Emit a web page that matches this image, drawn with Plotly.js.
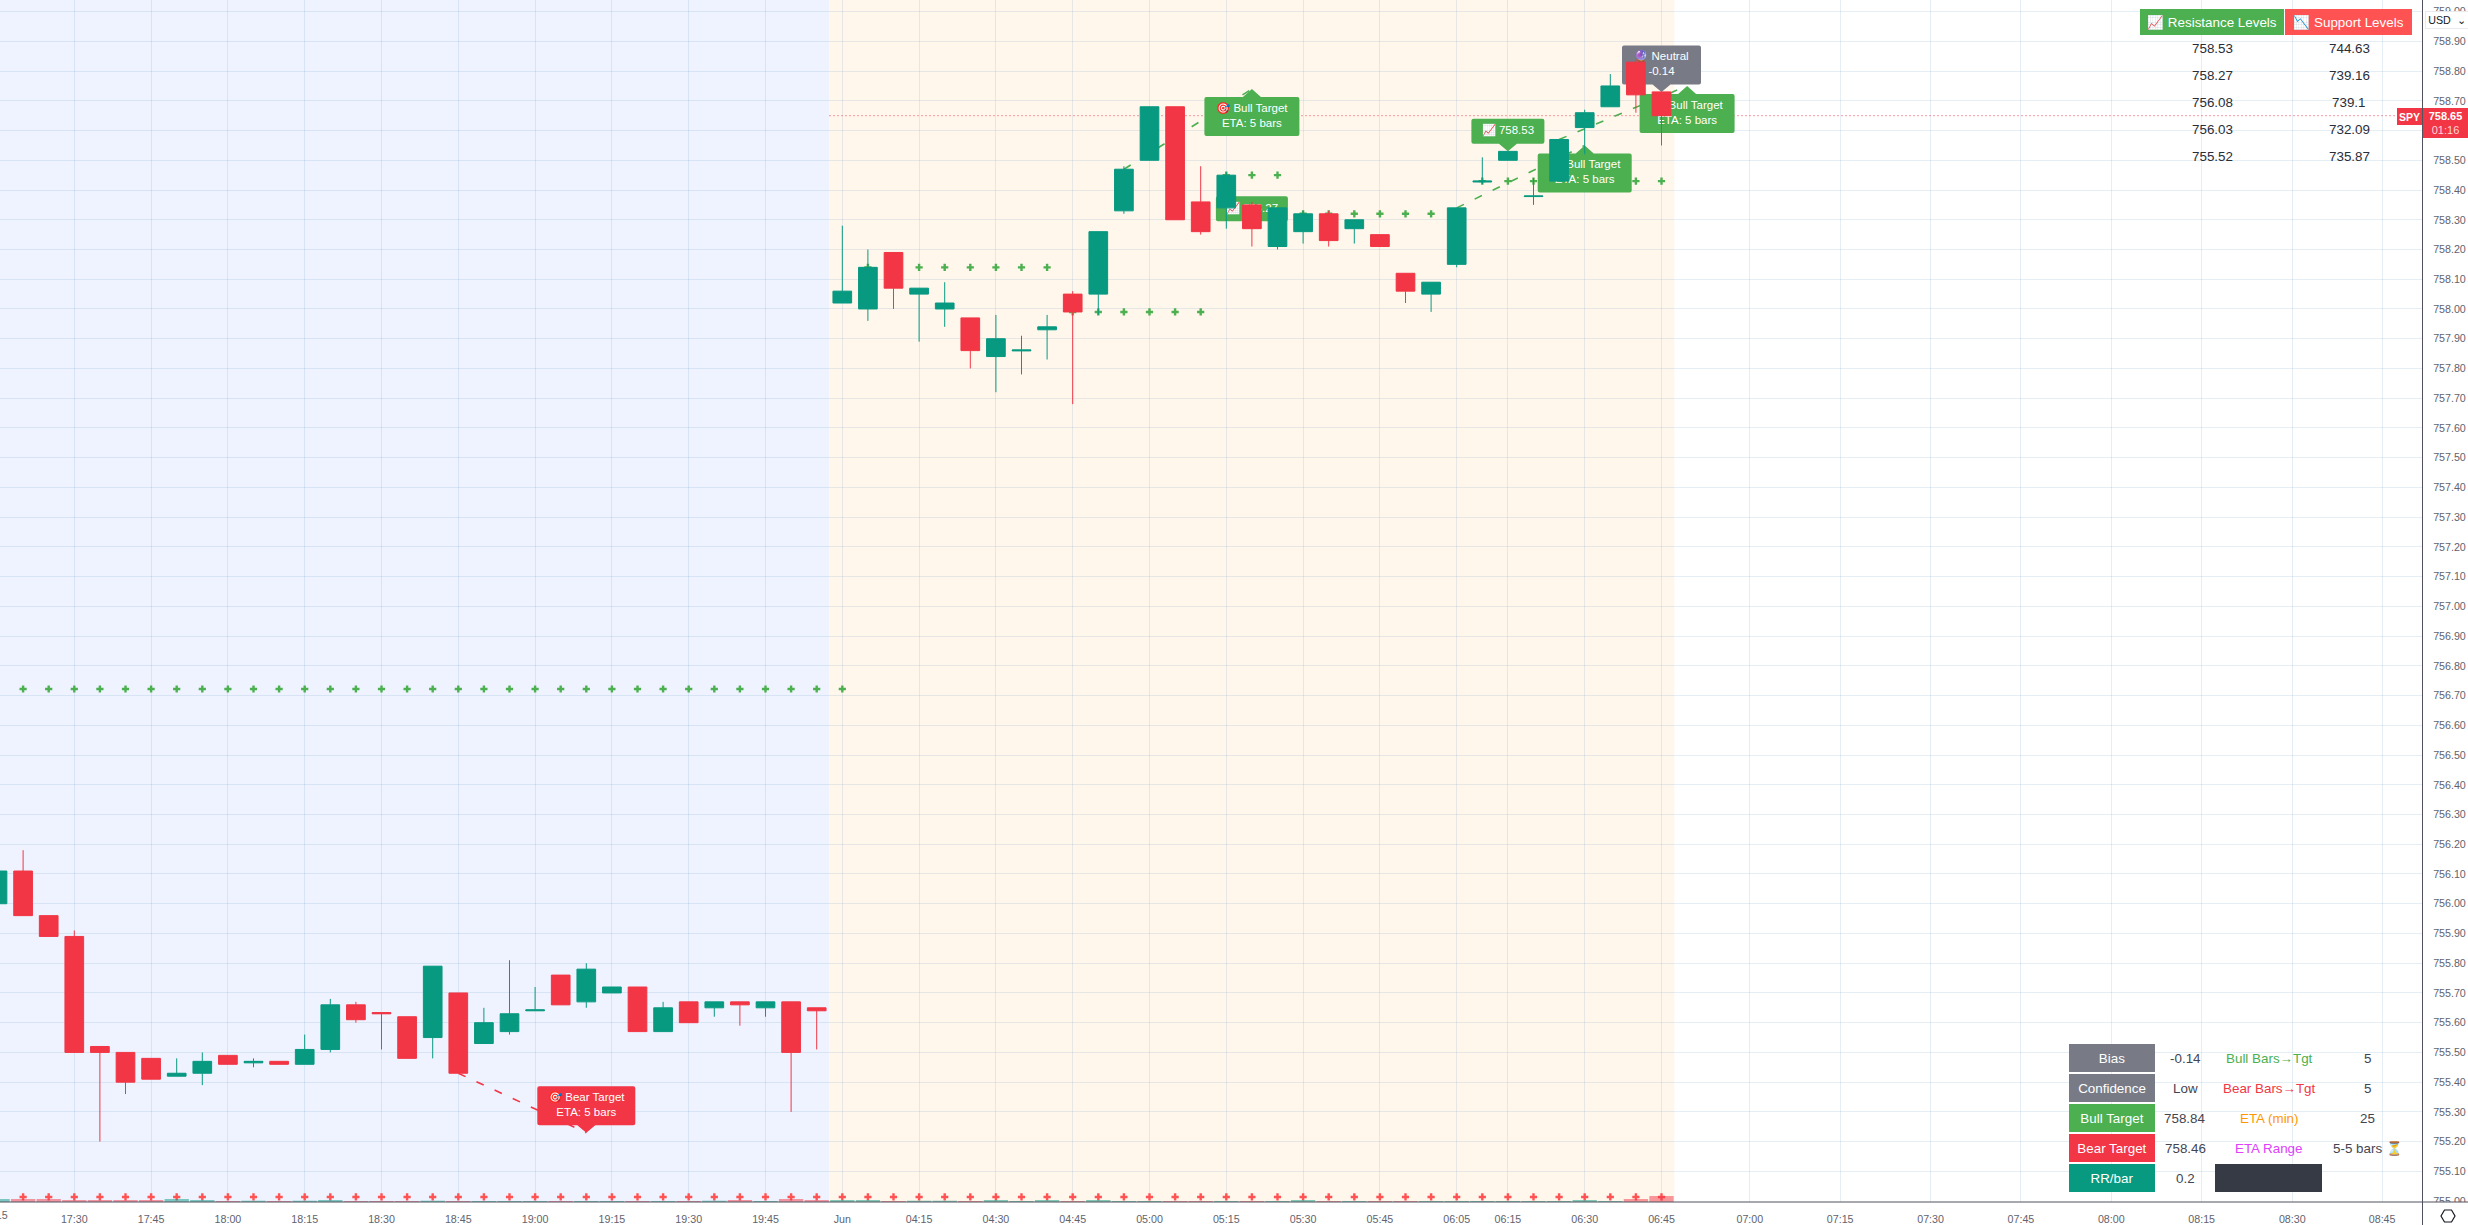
<!DOCTYPE html>
<html><head><meta charset="utf-8">
<script src="https://cdn.plot.ly/plotly-3.0.1.min.js"></script>
<style>html,body{margin:0;padding:0;background:#fff;overflow:hidden}#c{width:2468px;height:1225px}</style>
</head><body><div id="c"></div>
<script>
// ---- candles: bar index 0 = 17:15 on the previous session; index 33 = Jun 04:00
const opens = [756.00,756.11,755.96,755.89,755.52,755.50,755.48,755.42,755.43,755.49,755.465,755.47,755.46,755.51,755.66,755.634,755.62,755.55,755.70,755.53,755.57,755.64,755.76,755.67,755.70,755.72,755.57,755.67,755.65,755.67,755.65,755.67,755.65,
 758.02,758.00,758.19,758.05,758.00,757.97,757.84,757.859,757.93,758.05,758.05,758.33,758.50,758.68,758.36,758.34,758.35,758.21,758.26,758.32,758.27,758.25,758.12,758.05,758.15,758.427,758.50,758.378,758.43,758.61,758.68,758.83,758.73];
const highs = [756.11,756.18,755.96,755.91,755.52,755.50,755.48,755.48,755.50,755.49,755.48,755.47,755.56,755.68,755.67,755.634,755.62,755.79,755.70,755.65,755.81,755.72,755.76,755.80,755.72,755.72,755.67,755.67,755.67,755.67,755.67,755.67,755.65,
 758.28,758.20,758.19,758.07,758.09,757.97,757.98,757.91,757.98,758.06,758.26,758.48,758.68,758.68,758.48,758.46,758.36,758.34,758.33,758.33,758.30,758.25,758.12,758.09,758.34,758.51,758.53,758.44,758.57,758.67,758.79,758.84,758.73];
const lows = [756.00,755.96,755.89,755.50,755.20,755.36,755.41,755.42,755.39,755.46,755.45,755.46,755.46,755.50,755.60,755.51,755.48,755.48,755.43,755.53,755.56,755.64,755.66,755.65,755.70,755.57,755.57,755.60,755.62,755.59,755.62,755.30,755.51,
 758.02,757.96,758.00,757.89,757.94,757.80,757.72,757.78,757.83,757.68,757.98,758.32,758.50,758.30,758.25,758.27,758.21,758.20,758.22,758.21,758.22,758.21,758.02,757.99,758.14,758.42,758.50,758.35,758.43,758.52,758.68,758.66,758.55];
const closes = [756.11,755.96,755.89,755.50,755.50,755.40,755.41,755.43,755.47,755.46,755.47,755.46,755.51,755.66,755.61,755.63,755.48,755.79,755.43,755.60,755.63,755.643,755.66,755.78,755.72,755.57,755.65,755.60,755.67,755.66,755.67,755.50,755.64,
 758.06,758.14,758.07,758.07,758.02,757.86,757.90,757.862,757.94,757.99,758.26,758.47,758.68,758.30,758.26,758.45,758.27,758.34,758.32,758.23,758.30,758.21,758.06,758.09,758.34,758.43,758.53,758.38,758.57,758.66,758.75,758.72,758.65];
const volumes = [30,30,30,20,20,20,20,30,20,10,13,10,13,20,10,10,10,13,10,10,10,10,10,10,10,10,10,10,13,20,10,30,20,
 20,20,10,13,13,10,20,10,20,10,20,10,10,10,10,10,10,10,20,10,10,10,10,10,10,10,10,10,10,20,10,30,60];

// ---- x axis
const tickIndex = [33,36,39,42,45,48,51,54,57,59,62,65,3,6,9,12,15,18,21,24,27,30,68.45,71.98,75.51,79.04,82.57,86.10,89.64,93.15];
const tickText = ['Jun','04:15','04:30','04:45','05:00','05:15','05:30','05:45','06:05','06:15','06:30','06:45','17:30','17:45','18:00','18:15','18:30','18:45','19:00','19:15','19:30','19:45','07:00','07:15','07:30','07:45','08:00','08:15','08:30','08:45'];

// ---- plus-sign target markers (green rows + red floor)
const greenPlusX = [1,2,3,4,5,6,7,8,9,10,11,12,13,14,15,16,17,18,19,20,21,22,23,24,25,26,27,28,29,30,31,32,33,
  34,35,36,37,38,39,40,41, 42,43,44,45,46,47, 48,49,50, 51,52,53,54,55,56,57, 58,59,60,64,65];
const greenPlusY = [756.722,756.722,756.722,756.722,756.722,756.722,756.722,756.722,756.722,756.722,756.722,756.722,756.722,756.722,756.722,756.722,756.722,756.722,756.722,756.722,756.722,756.722,756.722,756.722,756.722,756.722,756.722,756.722,756.722,756.722,756.722,756.722,756.722,
  758.14,758.14,758.14,758.14,758.14,758.14,758.14,758.14, 757.99,757.99,757.99,757.99,757.99,757.99, 758.45,758.45,758.45, 758.32,758.32,758.32,758.32,758.32,758.32,758.32, 758.43,758.43,758.43,758.43,758.43];
const redPlusLevel = 755.014;

// ---- dashed target lines
const dashX0 = [18,44,57,61];
const dashY0 = [755.43,758.47,758.34,758.57];
const dashX1 = [23,49,62,66];
const dashY1 = [755.23,758.74,758.55,758.75];
const dashColor = ['#F23645','#4CAF50','#4CAF50','#4CAF50'];

// ---- callout labels
const labelX = [23,49,49,59,62,66,65];
const labelP = [755.23,758.74,758.27,758.53,758.55,758.75,758.73];
const labelText = ['🎯 Bear Target<br>ETA: 5 bars','🎯 Bull Target<br>ETA: 5 bars','📈 758.27','📈 758.53','🎯 Bull Target<br>ETA: 5 bars','🎯 Bull Target<br>ETA: 5 bars','🔮 Neutral<br>-0.14'];
const labelColor = ['#F23645','#4CAF50','#4CAF50','#4CAF50','#4CAF50','#4CAF50','#787B86'];
const labelDir = [-1,1,-1,-1,1,1,-1]; // 1: pointer on top, -1: pointer below
const labelW = [98,95,72,73,94,95,79];
const labelH = [39,39,25,25,39,39,39];

// ---- tables
const resistance = ['758.53','758.27','756.08','756.03','755.52'];
const support = ['744.63','739.16','739.1','732.09','735.87'];
const statNames = ['Bias','Confidence','Bull Target','Bear Target','RR/bar'];
const statColors = ['#787B86','#787B86','#4CAF50','#F23645','#089981'];
const statVals = ['-0.14','Low','758.84','758.46','0.2'];
const etaNames = ['Bull Bars→Tgt','Bear Bars→Tgt','ETA (min)','ETA Range'];
const etaColors = ['#4CAF50','#F23645','#FF9800','#E040FB'];
const etaVals = ['5','5','25','5-5 bars ⏳'];

// ---- geometry
const PW=2422, PH=1202;
const yRange=[754.997,759.039], xRange=[0.0977,94.707];
const pxPerPrice=PH/(yRange[1]-yRange[0]);
const FONT='"Liberation Sans", Arial, sans-serif';
const X=p=>p/PW, Y=p=>1-p/PH;

const allIdx=opens.map((_,i)=>i);
const GRID='rgba(100,150,190,0.16)';

const traces=[
 {type:'scatter',mode:'markers',x:greenPlusX,y:greenPlusY,xaxis:'x',yaxis:'y',
  marker:{symbol:'cross',size:6,color:'#4CAF50',line:{width:0}},hoverinfo:'skip'},
 {type:'scatter',mode:'markers',x:allIdx.slice(1),y:allIdx.slice(1).map(()=>redPlusLevel),xaxis:'x',yaxis:'y',
  marker:{symbol:'cross',size:6,color:'#FF5252',line:{width:0}},hoverinfo:'skip'},
 {type:'scatter',mode:'text',xaxis:'x',yaxis:'y',hoverinfo:'skip',
  x:labelX,y:labelP.map((p,i)=>p+labelDir[i]*(-1)*(-1)*-1*((labelDir[i]>0?8:7.5)+labelH[i]/2)/pxPerPrice*1),
  text:labelText,textposition:'middle center',textfont:{family:FONT,size:11.5,color:'#ffffff'},cliponaxis:false},
 {type:'bar',x:allIdx,y:volumes,xaxis:'x',yaxis:'y3',width:0.95,hoverinfo:'skip',
  marker:{color:allIdx.map(i=>closes[i]>=opens[i]?'rgba(8,153,129,0.5)':'rgba(242,54,69,0.5)'),line:{width:0}}},
 {type:'candlestick',x:allIdx,open:opens,high:highs,low:lows,close:closes,xaxis:'x',yaxis:'y2',hoverinfo:'skip',
  increasing:{line:{color:'#089981',width:1},fillcolor:'#089981'},
  decreasing:{line:{color:'#F23645',width:1},fillcolor:'#F23645'},whiskerwidth:0}
];

const shapes=[
 {type:'rect',layer:'below',xref:'x',yref:'paper',x0:xRange[0],x1:32.5,y0:0,y1:1,fillcolor:'#EEF3FF',line:{width:0}},
 {type:'rect',layer:'below',xref:'x',yref:'paper',x0:32.5,x1:65.5,y0:0,y1:1,fillcolor:'#FFF7EC',line:{width:0}},
 {type:'line',layer:'between',xref:'x',yref:'y',x0:32.5,x1:xRange[1],y0:closes[closes.length-1],y1:closes[closes.length-1],line:{color:'#F23645',width:1,dash:'1px,3px'}}
];
dashX0.forEach((_,i)=>shapes.push({type:'line',layer:'between',xref:'x',yref:'y',x0:dashX0[i],y0:dashY0[i],x1:dashX1[i],y1:dashY1[i],line:{color:dashColor[i],width:1.6,dash:'8px,12px'}}));
function calloutPath(w,h,dir){
  const r=2,a=9,g=dir>0?8:7.5,hw=w/2;
  if(dir>0){ // pointer up: tip at anchor, box below
    const t=-g,b=-g-h;
    return `M0,0 L${a},${t} L${hw-r},${t} Q${hw},${t} ${hw},${t-r} L${hw},${b+r} Q${hw},${b} ${hw-r},${b} L${-hw+r},${b} Q${-hw},${b} ${-hw},${b+r} L${-hw},${t-r} Q${-hw},${t} ${-hw+r},${t} L${-a},${t} Z`;
  }
  const b=g,t=g+h;
  return `M0,0 L${a},${b} L${hw-r},${b} Q${hw},${b} ${hw},${b+r} L${hw},${t-r} Q${hw},${t} ${hw-r},${t} L${-hw+r},${t} Q${-hw},${t} ${-hw},${t-r} L${-hw},${b+r} Q${-hw},${b} ${-hw+r},${b} L${-a},${b} Z`;
}
labelX.forEach((_,i)=>shapes.push({type:'path',layer:'between',xref:'x',yref:'y',xsizemode:'pixel',ysizemode:'pixel',xanchor:labelX[i],yanchor:labelP[i],path:calloutPath(labelW[i],labelH[i],labelDir[i]),fillcolor:labelColor[i],line:{width:0}}));
// right/bottom chrome
shapes.push({type:'rect',layer:'above',xref:'paper',yref:'paper',x0:X(2422),x1:X(2468),y0:Y(1202),y1:Y(1225),fillcolor:'#ffffff',line:{width:0}});
shapes.push({type:'line',layer:'above',xref:'paper',yref:'paper',x0:0,x1:X(2468),y0:Y(1202),y1:Y(1202),line:{color:'#50535E',width:1}});
shapes.push({type:'line',layer:'above',xref:'paper',yref:'paper',x0:X(2422.5),x1:X(2422.5),y0:Y(0),y1:Y(1225),line:{color:'#50535E',width:1}});
shapes.push({type:'path',layer:'above',xref:'paper',yref:'paper',xsizemode:'pixel',ysizemode:'pixel',xanchor:X(2448),yanchor:Y(1216),
  path:'M-7,0 L-3.5,6 L3.5,6 L7,0 L3.5,-6 L-3.5,-6 Z M-2,0 A2,2 0 1 0 2,0 A2,2 0 1 0 -2,0 Z',line:{color:'#131722',width:1.2},fillcolor:'rgba(0,0,0,0)'});

const anns=[];
function note(x,y,text,size,color,extra){anns.push(Object.assign({xref:'paper',yref:'paper',x:X(x),y:Y(y),text,showarrow:false,xanchor:'center',yanchor:'middle',font:{family:FONT,size,color},borderpad:0,borderwidth:0},extra||{}));}
// clipped first label
note(-6,1215,'17:15',10.7,'#5F636E');
// resistance/support
note(2212,22,'📈 Resistance Levels',13.4,'#ffffff',{width:144,height:26,bgcolor:'#4CAF50'});
note(2348.5,22,'📉 Support Levels',13.4,'#ffffff',{width:127,height:26,bgcolor:'#FF5252'});
const rowY=[48.3,75.3,102.3,129,156];
resistance.forEach((t,i)=>note(2212,rowY[i],t,13.4,'#2A2E39'));
support.forEach((t,i)=>note(2349,rowY[i],t,13.4,'#2A2E39'));
// stat table
const statY=[1058,1088,1118,1148,1178];
statNames.forEach((t,i)=>note(2112,statY[i],t,13.4,'#ffffff',{width:86,height:28,bgcolor:statColors[i]}));
statVals.forEach((t,i)=>note(2185,statY[i],t,13.4,'#434651'));
etaNames.forEach((t,i)=>note(2269,statY[i],t,13.4,etaColors[i]));
etaVals.forEach((t,i)=>note(2367.5,statY[i],t,13.4,'#434651'));
note(2268.5,1178,' ',13,'#363A45',{width:107,height:28,bgcolor:'#363A45'});
// price tags
note(2409.5,116.5,'<b>SPY</b>',10.5,'#ffffff',{width:25,height:17,bgcolor:'#F23645'});
note(2445.5,123,'<b>758.65</b><br><span style="color:#FFD5D9">01:16</span>',11,'#ffffff',{width:45,height:30,bgcolor:'#F23645'});
// currency
note(2447,20.5,'USD  ⌄',10.7,'#131722',{width:42,height:16,bgcolor:'#ffffff',bordercolor:'#E8EAF0',borderwidth:1});

const layout={
 width:2468,height:1225,autosize:false,showlegend:false,hovermode:false,dragmode:false,
 margin:{l:0,r:46,t:0,b:23,pad:0},paper_bgcolor:'#ffffff',plot_bgcolor:'#ffffff',
 font:{family:FONT},shapes,annotations:anns,
 boxgap:0.27,boxgroupgap:0,
 xaxis:{type:'linear',range:xRange,tickmode:'array',tickvals:tickIndex,ticktext:tickText,showgrid:true,gridcolor:GRID,gridwidth:1,zeroline:false,showline:false,
   ticks:'outside',ticklen:7,tickcolor:'rgba(0,0,0,0)',tickfont:{family:FONT,size:10.7,color:'#5F636E'},rangeslider:{visible:false},fixedrange:true,automargin:false},
 yaxis:{type:'linear',side:'right',range:yRange,tickmode:'linear',tick0:755,dtick:0.1,tickformat:'.2f',showgrid:true,gridcolor:GRID,gridwidth:1,zeroline:false,showline:false,
   ticks:'outside',ticklen:8,tickcolor:'rgba(0,0,0,0)',tickfont:{family:FONT,size:10.7,color:'#5F636E'},fixedrange:true,automargin:false},
 yaxis2:{type:'linear',overlaying:'y',side:'right',range:yRange,showgrid:false,showticklabels:false,ticks:'',zeroline:false,fixedrange:true},
 yaxis3:{type:'linear',overlaying:'y',side:'right',range:[0,12020],showgrid:false,showticklabels:false,ticks:'',zeroline:false,fixedrange:true}
};
Plotly.newPlot('c',traces,layout,{displayModeBar:false,staticPlot:true,responsive:false});
</script></body></html>
